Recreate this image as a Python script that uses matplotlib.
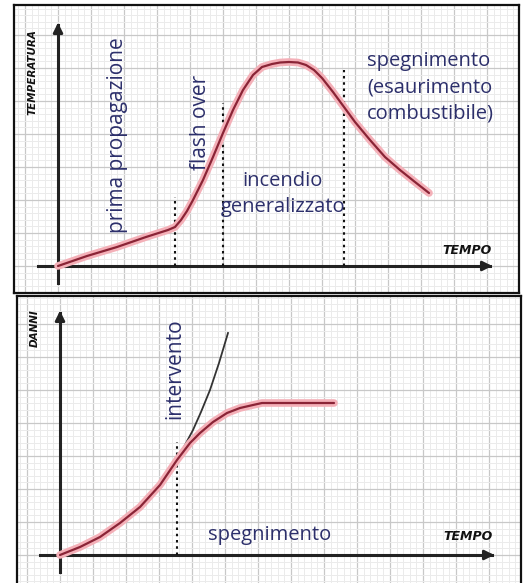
import numpy as np
import matplotlib
matplotlib.use("Agg")
import matplotlib.pyplot as plt
from matplotlib.ticker import MultipleLocator

# ---- data ----
# top panel: temperature vs time
temp_t = [0, 29, 59, 88, 110, 117, 123, 129, 135, 145, 155, 165, 175, 185,
          195, 204, 214, 222, 231, 240, 248, 256, 264, 275, 286, 297, 312,
          327, 342, 357, 371]
temp_v = [0, 10, 19, 29, 36, 39, 46, 55, 66, 86, 109, 133, 156, 176,
          191, 199, 202, 203.5, 204, 203.5, 201, 196, 188, 174, 159, 144, 126,
          109, 96, 84, 73]
phase_x = [117, 165, 286]          # dotted phase boundaries
phase_top = [69, 163, 196]

# bottom panel: damage vs time
dmg_t = [0, 20, 40, 60, 80, 100, 117, 130, 140, 153, 167, 180, 193, 202, 274]
dmg_v = [0, 8, 18, 32, 48, 70, 95, 112, 122, 133, 142, 147, 150, 152, 152]
free_t = [117, 125, 133, 141, 150, 159, 168]
free_v = [95, 110, 125, 143, 165, 192, 222]
interv_x = 117
interv_top = 113

TXT = "#2c2f6b"
FONT = "Open Sans"
LAB = ["DejaVu Sans"]

fig = plt.figure(figsize=(5.24, 5.83), dpi=100)
W, H = 524, 583

def make_ax(x0, y0, x1, y1, ox, oy, bottom_spine=True):
    ax = fig.add_axes([x0 / W, 1 - y1 / H, (x1 - x0) / W, (y1 - y0) / H])
    ax.set_xlim(x0 - ox, x1 - ox)
    ax.set_ylim(oy - y1, oy - y0)
    ax.xaxis.set_major_locator(MultipleLocator(33))
    ax.xaxis.set_minor_locator(MultipleLocator(6.6))
    ax.yaxis.set_major_locator(MultipleLocator(33))
    ax.yaxis.set_minor_locator(MultipleLocator(6.6))
    ax.grid(which="major", color="#c8c8c8", lw=0.9)
    ax.grid(which="minor", color="#ebebeb", lw=0.7)
    ax.tick_params(which="both", length=0, labelbottom=False, labelleft=False)
    ax.set_axisbelow(True)
    for s in ax.spines.values():
        s.set_color("#111111")
        s.set_linewidth(1.6)
    if not bottom_spine:
        ax.spines["bottom"].set_visible(False)
    return ax

def axis_arrows(ax, ytip, xtip):
    ax.plot([0, 0], [-17, ytip - 5], color="#222222", lw=2.2, zorder=4)
    ax.plot([-20, xtip - 5], [0, 0], color="#222222", lw=2.2, zorder=4)
    ax.annotate("", xy=(0, ytip), xytext=(0, ytip - 12),
                arrowprops=dict(arrowstyle="-|>", color="#222222", lw=2,
                                mutation_scale=14), zorder=5)
    ax.annotate("", xy=(xtip, 0), xytext=(xtip - 12, 0),
                arrowprops=dict(arrowstyle="-|>", color="#222222", lw=2,
                                mutation_scale=14), zorder=5)

def red_curve(ax, t, v):
    ax.plot(t, v, color="#f4b0b8", lw=5.5, solid_capstyle="round",
            solid_joinstyle="round", zorder=6)
    ax.plot(t, v, color="#8a2436", lw=1.6, solid_capstyle="round",
            solid_joinstyle="round", zorder=7)

lab_small = 7.5
lab_tempo = 9

# ---- top panel ----
ax1 = make_ax(14, 5, 519, 293, 58, 266)
axis_arrows(ax1, 246, 437)
for px, pt in zip(phase_x, phase_top):
    ax1.plot([px, px], [0, pt], color="#111111", lw=1.5,
             linestyle=(0, (1.2, 1.8)), zorder=5)
red_curve(ax1, temp_t, temp_v)

ax1.text(60, 131, "prima propagazione", rotation=90, ha="center", va="center",
         color=TXT, family=FONT, fontsize=15, zorder=8)
ax1.text(142, 144, "flash over", rotation=90, ha="center", va="center",
         color=TXT, family=FONT, fontsize=15, zorder=8)
ax1.text(225, 72, "incendio\ngeneralizzato", ha="center", va="center",
         color=TXT, family=FONT, fontsize=14.5, linespacing=1.4, zorder=8)
ax1.text(309, 179, "spegnimento\n(esaurimento\ncombustibile)", ha="left",
         va="center", color=TXT, family=FONT, fontsize=14.5, linespacing=1.4,
         zorder=8)
ax1.text(-25, 194, "TEMPERATURA", rotation=90, ha="center", va="center",
         color="#111111", family=LAB, fontsize=lab_small,
         fontweight="bold", fontstyle="italic", zorder=8)
ax1.text(409, 16, "TEMPO", ha="center", va="center", color="#111111",
         family=LAB, fontsize=lab_tempo, fontweight="bold",
         fontstyle="italic", zorder=8)

# ---- bottom panel ----
ax2 = make_ax(17, 296, 521, 583, 60, 555, bottom_spine=False)
axis_arrows(ax2, 247, 437)
ax2.plot([interv_x, interv_x], [0, interv_top], color="#111111", lw=1.5,
         linestyle=(0, (1.2, 1.8)), zorder=5)
ax2.plot(free_t, free_v, color="#333333", lw=1.3, zorder=6)
red_curve(ax2, dmg_t, dmg_v)

ax2.text(115, 186, "intervento", rotation=90, ha="center", va="center",
         color=TXT, family=FONT, fontsize=15, zorder=8)
ax2.text(210, 20, "spegnimento", ha="center", va="center",
         color=TXT, family=FONT, fontsize=14.5, zorder=8)
ax2.text(-25, 227, "DANNI", rotation=90, ha="center", va="center",
         color="#111111", family=LAB, fontsize=lab_small,
         fontweight="bold", fontstyle="italic", zorder=8)
ax2.text(408, 18, "TEMPO", ha="center", va="center", color="#111111",
         family=LAB, fontsize=lab_tempo, fontweight="bold",
         fontstyle="italic", zorder=8)

fig.savefig("out.png", dpi=100, facecolor="white")
